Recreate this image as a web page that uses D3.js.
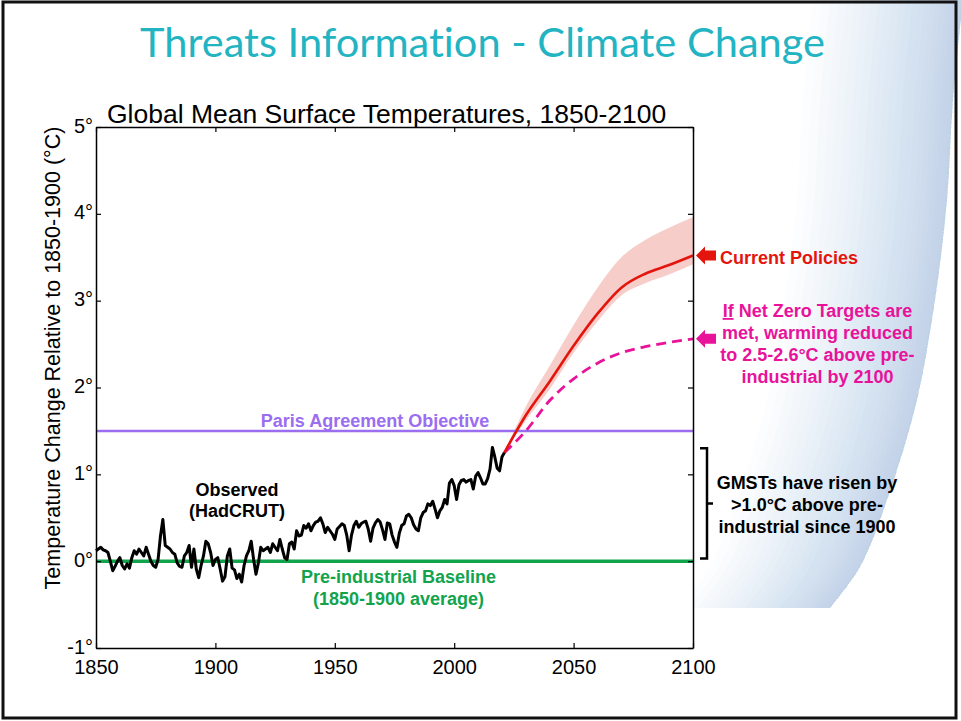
<!DOCTYPE html>
<html>
<head>
<meta charset="utf-8">
<script src="https://cdn.jsdelivr.net/npm/d3@7"></script>
<style>
  html, body { margin: 0; padding: 0; background: #fff; }
  svg { display: block; }
  text { font-family: "Liberation Sans", Arial, sans-serif; }
</style>
</head>
<body>
<script>
/**
 * DATA
 */
const obsStart = 1850;
// Observed (HadCRUT) anomaly vs 1850-1900, one value a year, 1850..2021
const observed = [
  0.12, 0.14, 0.16, 0.13, 0.12, 0.10, 0.00, -0.11, -0.06, 0.00,
  0.04, -0.05, -0.09, -0.03, -0.08, 0.04, 0.12, 0.08, 0.14, 0.10,
  0.06, 0.16, 0.08, 0.00, -0.05, -0.07, 0.02, 0.29, 0.48, 0.18,
  0.16, 0.14, 0.10, 0.08, -0.02, -0.06, -0.07, 0.06, 0.10, 0.18,
  -0.07, 0.14, -0.09, -0.19, -0.05, 0.06, 0.23, 0.20, 0.10, -0.05,
  0.02, 0.04, -0.09, -0.23, -0.18, 0.06, 0.14, -0.08, -0.10, -0.20,
  -0.15, -0.24, -0.05, 0.06, 0.12, 0.23, 0.02, -0.15, -0.02, 0.16,
  0.12, 0.14, 0.16, 0.10, 0.20, 0.16, 0.12, 0.25, 0.14, 0.04,
  0.02, 0.20, 0.22, 0.14, 0.35, 0.29, 0.30, 0.41, 0.38, 0.43,
  0.35, 0.41, 0.45, 0.46, 0.50, 0.43, 0.33, 0.39, 0.35, 0.31,
  0.25, 0.37, 0.40, 0.43, 0.41, 0.30, 0.12, 0.30, 0.41, 0.46,
  0.39, 0.43, 0.45, 0.46, 0.37, 0.23, 0.38, 0.44, 0.48, 0.45,
  0.36, 0.25, 0.44, 0.43, 0.30, 0.22, 0.16, 0.32, 0.41, 0.43,
  0.52, 0.54, 0.50, 0.42, 0.37, 0.35, 0.50, 0.56, 0.58, 0.66,
  0.64, 0.69, 0.60, 0.50, 0.58, 0.62, 0.71, 0.66, 0.90, 0.94,
  0.87, 0.71, 0.88, 0.93, 0.94, 0.91, 0.93, 0.94, 0.83, 0.98,
  1.02, 0.96, 0.89, 0.89, 0.95, 1.06, 1.31, 1.20, 1.07, 1.04,
  1.20, 1.25
];

const projYears = [2021, 2030, 2040, 2050, 2060, 2070, 2080, 2090, 2100];
const policyMean = [1.25, 1.68, 2.07, 2.48, 2.85, 3.15, 3.31, 3.41, 3.52];
const policyHigh = [1.25, 1.78, 2.25, 2.72, 3.15, 3.50, 3.70, 3.84, 3.96];
const policyLow = [1.25, 1.62, 1.98, 2.40, 2.76, 3.06, 3.20, 3.30, 3.42];
const netZero = [1.25, 1.50, 1.85, 2.10, 2.28, 2.40, 2.47, 2.52, 2.56];

const xTicks = [1850, 1900, 1950, 2000, 2050, 2100];
const yTicks = [-1, 0, 1, 2, 3, 4, 5];
const parisLevel = 1.5;
const baselineLevel = 0;
const bracketRange = [0.03, 1.3];

const netZeroLines = ["met, warming reduced", "to 2.5-2.6°C above pre-", "industrial by 2100"];
const gmstLines = ["GMSTs have risen by", ">1.0°C above pre-", "industrial since 1900"];

/**
 * CONSTANTS
 */
const W = 961, H = 721;
const RED = "#e4150c";
const MAGENTA = "#e8129b";
const PURPLE = "#9b6df0";
const GREEN = "#12a44c";
const TEAL = "#22b4c2";

const svg = d3.select("body").append("svg").attr("width", W).attr("height", H);

// Background swoosh on the right: stacked faint bands that follow the curve,
// closer together near the edge so it darkens towards it
const edge = [[964, -10], [953, 100], [947, 200], [935, 300], [917, 400], [887, 500], [860, 567], [830, 608]];
const edgeLine = d3.line().curve(d3.curveCatmullRom);
const defs = svg.append("defs");
defs.append("clipPath").attr("id", "swoosh")
  .append("path")
  .attr("d", edgeLine(edge) + "L-10,608L-10,-10Z");
const swoosh = svg.append("g").attr("clip-path", "url(#swoosh)");
const BANDS = 24;
for (let k = 1; k <= BANDS; k++) {
  const off = 150 * Math.pow(k / BANDS, 1.4);
  const shifted = edge.map(([px, py]) => [px - off, py]);
  swoosh.append("path")
    .attr("d", edgeLine(shifted) + "L980,608L980,-10Z")
    .attr("fill", "#8fa5c2")
    .attr("opacity", 0.022);
}

// Slide border
svg.append("rect")
  .attr("x", 3).attr("y", 2).attr("width", 953).attr("height", 716)
  .attr("fill", "none").attr("stroke", "#111").attr("stroke-width", 3);

// Slide title
svg.append("text")
  .attr("x", 482.5).attr("y", 57)
  .attr("text-anchor", "middle")
  .style("font-family", "Lato, 'Open Sans', sans-serif")
  .style("font-variant-ligatures", "none")
  .attr("font-size", 40)
  .attr("textLength", 685)
  .attr("lengthAdjust", "spacingAndGlyphs")
  .attr("fill", TEAL)
  .text("Threats Information - Climate Change");

/**
 * CHART
 */
const x = d3.scaleLinear().domain([1850, 2100]).range([96, 693]);
const y = d3.scaleLinear().domain([-1, 5]).range([648, 127]);

svg.append("rect")
  .attr("x", x(1850)).attr("y", y(5))
  .attr("width", x(2100) - x(1850)).attr("height", y(-1) - y(5))
  .attr("fill", "#fff");

svg.append("text")
  .attr("x", 107).attr("y", 122.5)
  .attr("font-size", 26.5)
  .text("Global Mean Surface Temperatures, 1850-2100");

svg.append("text")
  .attr("transform", "translate(60,358) rotate(-90)")
  .attr("text-anchor", "middle")
  .attr("font-size", 21.5)
  .text("Temperature Change Relative to 1850-1900 (°C)");

// Current policies band
const band = d3.area()
  .x((d, i) => x(projYears[i]))
  .y0((d, i) => y(policyLow[i]))
  .y1((d, i) => y(policyHigh[i]))
  .curve(d3.curveMonotoneX);
svg.append("path")
  .datum(projYears)
  .attr("d", band)
  .attr("fill", "#f4b8b3")
  .attr("opacity", 0.7);

// Reference lines
svg.append("line")
  .attr("x1", x(1850)).attr("x2", x(2100))
  .attr("y1", y(parisLevel)).attr("y2", y(parisLevel))
  .attr("stroke", PURPLE).attr("stroke-width", 2.5);
svg.append("line")
  .attr("x1", x(1850)).attr("x2", x(2100))
  .attr("y1", y(baselineLevel)).attr("y2", y(baselineLevel))
  .attr("stroke", GREEN).attr("stroke-width", 3.5);

// Projections
const projLine = (vals) => d3.line()
  .x((d, i) => x(projYears[i]))
  .y((d, i) => y(vals[i]))
  .curve(d3.curveMonotoneX)(projYears);

svg.append("path")
  .attr("d", projLine(netZero))
  .attr("fill", "none")
  .attr("stroke", MAGENTA)
  .attr("stroke-width", 2.8)
  .attr("stroke-dasharray", "10,6");
svg.append("path")
  .attr("d", projLine(policyMean))
  .attr("fill", "none")
  .attr("stroke", RED)
  .attr("stroke-width", 2.6);

// Observed
svg.append("path")
  .datum(observed)
  .attr("d", d3.line().x((d, i) => x(obsStart + i)).y((d) => y(d)))
  .attr("fill", "none")
  .attr("stroke", "#000")
  .attr("stroke-width", 3)
  .attr("stroke-linejoin", "round");

// Axes, ticks inward on all four sides
const styleAxis = (g) => {
  g.select(".domain").attr("stroke", "#000").attr("stroke-width", 1.5);
  g.selectAll(".tick line").attr("stroke", "#000").attr("stroke-width", 1.2);
  g.selectAll("text").attr("font-size", 20).attr("fill", "#000")
    .style("font-family", "'Liberation Sans', Arial, sans-serif");
};
svg.append("g")
  .attr("transform", `translate(0,${y(-1)})`)
  .call(d3.axisBottom(x).tickValues(xTicks).tickFormat(d3.format("d"))
    .tickSizeInner(-5).tickSizeOuter(0).tickPadding(12))
  .call(styleAxis);
svg.append("g")
  .attr("transform", `translate(0,${y(5)})`)
  .call(d3.axisTop(x).tickValues(xTicks).tickFormat("")
    .tickSizeInner(-5).tickSizeOuter(0))
  .call(styleAxis);
svg.append("g")
  .attr("transform", `translate(${x(1850)},0)`)
  .call(d3.axisLeft(y).tickValues(yTicks).tickFormat((d) => `${d}°`)
    .tickSizeInner(-5).tickSizeOuter(0).tickPadding(3))
  .call(styleAxis)
  .call((g) => g.selectAll("text").attr("dy", "0.25em"));
svg.append("g")
  .attr("transform", `translate(${x(2100)},0)`)
  .call(d3.axisRight(y).tickValues(yTicks).tickFormat("")
    .tickSizeInner(-5).tickSizeOuter(0))
  .call(styleAxis);

/**
 * ANNOTATIONS
 */
const label = (tx, ty, str, color, anchor = "middle") =>
  svg.append("text")
    .attr("x", tx).attr("y", ty)
    .attr("text-anchor", anchor)
    .attr("font-size", 18)
    .attr("font-weight", "bold")
    .attr("fill", color)
    .text(str);

label(375, 427, "Paris Agreement Objective", PURPLE);
label(237, 496, "Observed", "#000");
label(237, 517, "(HadCRUT)", "#000");
label(398.5, 582.5, "Pre-industrial Baseline", GREEN);
label(398.5, 604.5, "(1850-1900 average)", GREEN);
label(720, 264, "Current Policies", RED, "start");

const nz = label(817.5, 317, "", MAGENTA);
nz.append("tspan").attr("text-decoration", "underline").text("If");
nz.append("tspan").text(" Net Zero Targets are");
netZeroLines.forEach((s, i) => label(817.5, 338.5 + i * 22, s, MAGENTA));
gmstLines.forEach((s, i) => label(807, 489 + i * 22, s, "#000"));

// Left-pointing arrows at the 2100 values
const arrow = (yc, color) => {
  const tip = x(2100) + 3;
  svg.append("path")
    .attr("d", `M${tip},${yc}L${tip + 9},${yc - 9}L${tip + 9},${yc - 5}L${tip + 20},${yc - 5}` +
      `L${tip + 20},${yc + 5}L${tip + 9},${yc + 5}L${tip + 9},${yc + 9}Z`)
    .attr("fill", color);
};
arrow(y(policyMean[policyMean.length - 1]), RED);
arrow(y(netZero[netZero.length - 1]), MAGENTA);

// Brace for observed warming
const bTop = y(bracketRange[1]), bBot = y(bracketRange[0]);
const bx = 707;
svg.append("path")
  .attr("d", `M${bx - 7},${bTop}H${bx}V${bBot}H${bx - 7}M${bx},${(bTop + bBot) / 2}h6`)
  .attr("fill", "none")
  .attr("stroke", "#000")
  .attr("stroke-width", 2.5);
</script>
</body>
</html>
